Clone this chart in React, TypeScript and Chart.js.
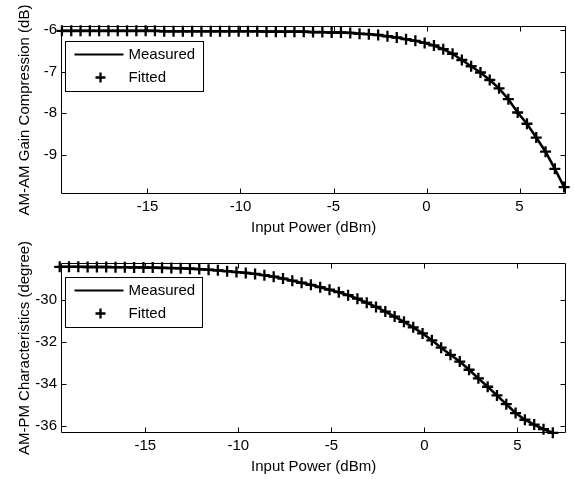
import React, { useEffect, useRef } from 'react';
import { Chart, registerables } from 'chart.js';

Chart.register(...registerables);

const FONT = "'Liberation Sans', Arial, Helvetica, sans-serif";

// ---- data ----
const inputPowerAmAm = [
  -19.6, -19.1, -18.6, -18.1, -17.6, -17.1, -16.6, -16.1, -15.6, -15.1,
  -14.6, -14.1, -13.6, -13.1, -12.6, -12.1, -11.6, -11.1, -10.6, -10.1,
  -9.6, -9.1, -8.6, -8.1, -7.6, -7.1, -6.6, -6.1, -5.6, -5.1,
  -4.6, -4.1, -3.6, -3.1, -2.6, -2.1, -1.6, -1.1, -0.6, -0.1,
  0.4, 0.9, 1.4, 1.9, 2.4, 2.9, 3.4, 3.9, 4.4, 4.9,
  5.4, 5.9, 6.4, 6.9, 7.4,
];
const amamGain = [
  -6.02, -6.02, -6.02, -6.02, -6.02, -6.02, -6.02, -6.02, -6.02, -6.02,
  -6.02, -6.03, -6.03, -6.03, -6.03, -6.03, -6.03, -6.03, -6.03, -6.03,
  -6.03, -6.03, -6.04, -6.04, -6.04, -6.04, -6.04, -6.05, -6.05, -6.06,
  -6.06, -6.07, -6.09, -6.10, -6.12, -6.15, -6.18, -6.22, -6.26, -6.31,
  -6.37, -6.46, -6.57, -6.72, -6.87, -7.02, -7.20, -7.40, -7.66, -7.98,
  -8.25, -8.58, -8.92, -9.33, -9.77,
];
const inputPowerAmPm = [
  -19.6, -19.1, -18.6, -18.1, -17.6, -17.1, -16.6, -16.1, -15.6, -15.1,
  -14.6, -14.1, -13.6, -13.1, -12.6, -12.1, -11.6, -11.1, -10.6, -10.1,
  -9.6, -9.1, -8.6, -8.1, -7.6, -7.1, -6.6, -6.1, -5.6, -5.1,
  -4.6, -4.1, -3.6, -3.1, -2.6, -2.1, -1.6, -1.1, -0.6, -0.1,
  0.4, 0.9, 1.4, 1.9, 2.4, 2.9, 3.4, 3.9, 4.4, 4.9,
  5.4, 5.9, 6.4, 6.9,
];
const ampmPhase = [
  -28.42, -28.42, -28.42, -28.43, -28.43, -28.43, -28.44, -28.44, -28.45, -28.45,
  -28.46, -28.47, -28.48, -28.49, -28.51, -28.53, -28.56, -28.59, -28.63, -28.67,
  -28.71, -28.76, -28.82, -28.89, -28.98, -29.08, -29.18, -29.28, -29.39, -29.51,
  -29.63, -29.77, -29.94, -30.13, -30.33, -30.55, -30.79, -31.04, -31.30, -31.59,
  -31.92, -32.27, -32.61, -32.93, -33.32, -33.73, -34.13, -34.54, -34.96, -35.38,
  -35.70, -35.93, -36.15, -36.32,
];
const xTickValues = [-15, -10, -5, 0, 5];
const amamTickValues = [-9, -8, -7, -6];
const ampmTickValues = [-36, -34, -32, -30];
const seriesLabels = ['Measured', 'Fitted'];
const xAxisTitle = 'Input Power (dBm)';
const amamAxisTitle = 'AM-AM Gain Compression (dB)';
const ampmAxisTitle = 'AM-PM Characteristics (degree)';

// ---- frame / ticks / legend plugin (MATLAB style) ----
const matlabFrame = {
  id: 'matlabFrame',
  afterDatasetsDraw(chart: any, _args: any, opts: any) {
    const { ctx, chartArea: a, scales } = chart;
    const xs = scales.x;
    const ys = scales.y;
    ctx.save();
    ctx.strokeStyle = '#000';
    ctx.lineWidth = 1;
    const L = Math.round(a.left) + 0.5;
    const R = Math.round(a.right) - 0.5;
    const T = Math.round(a.top) + 0.5;
    const B = Math.round(a.bottom) - 0.5;
    ctx.beginPath();
    ctx.rect(L, T, R - L, B - T);
    ctx.stroke();
    const tl = 5;
    ctx.beginPath();
    xs.ticks.forEach((t: any) => {
      const px = Math.round(xs.getPixelForValue(t.value)) + 0.5;
      ctx.moveTo(px, B);
      ctx.lineTo(px, B - tl);
      ctx.moveTo(px, T);
      ctx.lineTo(px, T + tl);
    });
    ys.ticks.forEach((t: any) => {
      const py = Math.round(ys.getPixelForValue(t.value)) + 0.5;
      ctx.moveTo(L, py);
      ctx.lineTo(L + tl, py);
      ctx.moveTo(R, py);
      ctx.lineTo(R - tl, py);
    });
    ctx.stroke();

    // legend
    const bx = Math.round(a.left) + 4.5;
    const by = Math.round(a.top) + (opts.legendDy || 15) + 0.5;
    const bw = opts.legendW || 138;
    const bh = 50;
    ctx.fillStyle = '#fff';
    ctx.fillRect(bx, by, bw, bh);
    ctx.strokeRect(bx, by, bw, bh);
    const ds = chart.data.datasets;
    ctx.font = `15px ${FONT}`;
    ctx.textBaseline = 'middle';
    ctx.textAlign = 'left';
    ctx.fillStyle = '#000';
    // line entry
    ctx.lineWidth = 2;
    ctx.strokeStyle = ds[0].borderColor;
    ctx.beginPath();
    ctx.moveTo(bx + 9, by + 13);
    ctx.lineTo(bx + 58, by + 13);
    ctx.stroke();
    ctx.fillText(ds[0].label, bx + 63, by + 13);
    // marker entry
    const r = 5;
    ctx.lineWidth = ds[1].pointBorderWidth;
    ctx.strokeStyle = ds[1].pointBorderColor;
    const cx = bx + 35;
    const cy = by + 36;
    ctx.beginPath();
    ctx.moveTo(cx - r, cy);
    ctx.lineTo(cx + r, cy);
    ctx.moveTo(cx, cy - r);
    ctx.lineTo(cx, cy + r);
    ctx.stroke();
    ctx.fillText(ds[1].label, bx + 63, cy);
    ctx.restore();
  },
};

function makeConfig(
  xs: number[],
  ys: number[],
  xMin: number,
  xMax: number,
  yMin: number,
  yMax: number,
  yTicks: number[],
  yTitle: string,
  padTop: number,
  legendDy: number,
  legendW: number
): any {
  const pts = xs.map((x, i) => ({ x, y: ys[i] }));
  return {
    type: 'line',
    data: {
      datasets: [
        {
          label: seriesLabels[0],
          data: pts,
          borderColor: '#000',
          backgroundColor: '#000',
          borderWidth: 2.6,
          pointRadius: 0,
          tension: 0,
          clip: false,
        },
        {
          label: seriesLabels[1],
          data: pts,
          showLine: false,
          pointStyle: 'cross',
          pointRadius: 5.5,
          pointBorderWidth: 2.3,
          pointBorderColor: '#000',
          pointBackgroundColor: '#000',
          clip: false,
        },
      ],
    },
    options: {
      responsive: false,
      animation: false,
      events: [],
      layout: { padding: { left: 0, right: 5, top: padTop, bottom: 0 } },
      plugins: {
        legend: { display: false },
        tooltip: { enabled: false },
        matlabFrame: { legendDy, legendW },
      },
      scales: {
        x: {
          type: 'linear',
          min: xMin,
          max: xMax,
          afterBuildTicks: (s: any) => {
            s.ticks = xTickValues.map((v) => ({ value: v }));
          },
          afterFit: (s: any) => {
            s.height = 46;
          },
          grid: { display: false, drawTicks: false },
          border: { display: false },
          ticks: {
            color: '#000',
            padding: 4,
            font: { size: 15, family: FONT },
            maxRotation: 0,
            autoSkip: false,
          },
          title: {
            display: true,
            text: xAxisTitle,
            color: '#000',
            font: { size: 15, family: FONT },
            padding: { top: 0, bottom: 3 },
          },
        },
        y: {
          type: 'linear',
          min: yMin,
          max: yMax,
          afterBuildTicks: (s: any) => {
            s.ticks = yTicks.map((v) => ({ value: v }));
          },
          afterFit: (s: any) => {
            s.width = 61;
          },
          grid: { display: false, drawTicks: false },
          border: { display: false },
          ticks: {
            color: '#000',
            padding: 4,
            font: { size: 15, family: FONT },
            autoSkip: false,
          },
          title: {
            display: true,
            text: yTitle,
            color: '#000',
            font: { size: 15, family: FONT },
            padding: { top: 16, bottom: 0 },
          },
        },
      },
    },
    plugins: [matlabFrame],
  };
}

export default function App() {
  const topRef = useRef<HTMLCanvasElement>(null);
  const botRef = useRef<HTMLCanvasElement>(null);

  useEffect(() => {
    document.body.style.margin = '0';
    const c1 = new Chart(
      topRef.current as HTMLCanvasElement,
      makeConfig(inputPowerAmAm, amamGain, -19.65, 7.51, -9.935, -5.904, amamTickValues, amamAxisTitle, 26, 15, 138)
    );
    const c2 = new Chart(
      botRef.current as HTMLCanvasElement,
      makeConfig(inputPowerAmPm, ampmPhase, -19.53, 7.62, -36.33, -28.24, ampmTickValues, ampmAxisTitle, 23, 14, 137)
    );
    return () => {
      c1.destroy();
      c2.destroy();
    };
  }, []);

  return (
    <div style={{ position: 'fixed', left: 0, top: 0, width: 574, height: 479, background: '#fff' }}>
      <canvas
        ref={topRef}
        width={574}
        height={240}
        style={{ position: 'absolute', left: 0, top: 0, width: 574, height: 240, display: 'block' }}
      />
      <canvas
        ref={botRef}
        width={574}
        height={239}
        style={{ position: 'absolute', left: 0, top: 240, width: 574, height: 239, display: 'block' }}
      />
    </div>
  );
}
